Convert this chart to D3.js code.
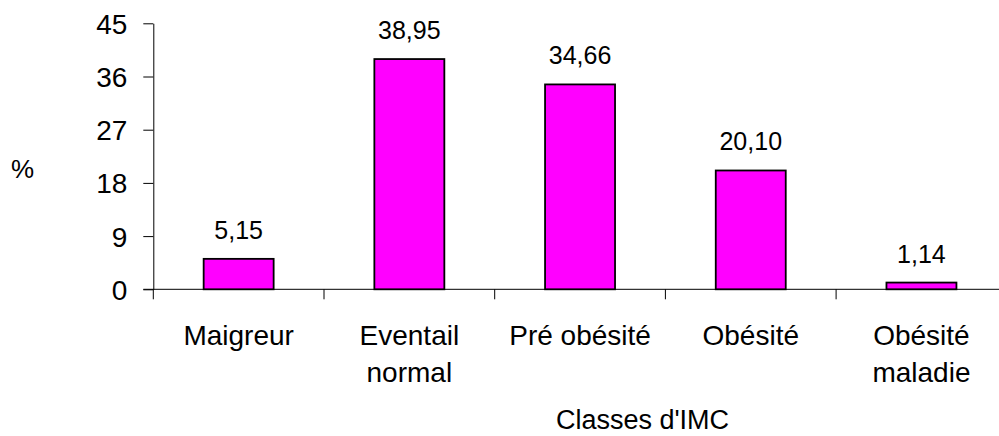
<!DOCTYPE html>
<html>
<head>
<meta charset="utf-8">
<script src="https://cdn.jsdelivr.net/npm/d3@7"></script>
<style>
  html, body { margin: 0; padding: 0; background: #fff; }
  svg { display: block; }
  text { font-family: "Liberation Sans", Arial, sans-serif; fill: #000; }
</style>
</head>
<body>
<svg id="chart" width="999" height="436"></svg>
<script>
// Répartition des classes d'IMC (%)
const categories = [
  ["Maigreur"],
  ["Eventail", "normal"],
  ["Pré obésité"],
  ["Obésité"],
  ["Obésité", "maladie"]
];
const values = [5.15, 38.95, 34.66, 20.10, 1.14];
const yTicks = [0, 9, 18, 27, 36, 45];
const yLabel = "%";
const xLabel = "Classes d'IMC";

const svg = d3.select("#chart");
const keys = categories.map(c => c.join(" "));

const x = d3.scaleBand().domain(keys).range([153.3, 1006.8]).padding(0);
const y = d3.scaleLinear().domain([0, 45]).range([289.3, 23.3]);
const barW = x.bandwidth() * 0.41;
const fmt = v => d3.format(".2f")(v).replace(".", ",");

// Y axis
const yAxis = svg.append("g")
  .attr("transform", `translate(${x.range()[0]},0)`)
  .call(d3.axisLeft(y).tickValues(yTicks).tickSize(10).tickSizeOuter(0).tickPadding(16));
yAxis.select(".domain").attr("stroke", "#000").attr("stroke-width", 1);
yAxis.selectAll(".tick line").attr("stroke", "#000");
yAxis.selectAll(".tick text")
  .style("font-size", "28px")
  .attr("font-family", null)
  .attr("dy", "0.36em");

// X axis: baseline and ticks between categories
const xg = svg.append("g");
xg.append("line")
  .attr("x1", x.range()[0] - 10).attr("x2", 999)
  .attr("y1", y(0)).attr("y2", y(0))
  .attr("stroke", "#000").attr("stroke-width", 1);
const bounds = keys.map(k => x(k)).concat([x(keys[keys.length - 1]) + x.bandwidth()]);
xg.selectAll("line.sep")
  .data(bounds.filter(b => b < 999))
  .join("line")
  .attr("class", "sep")
  .attr("x1", d => d).attr("x2", d => d)
  .attr("y1", y(0)).attr("y2", y(0) + 10)
  .attr("stroke", "#000").attr("stroke-width", 1);

// Category labels
const cat = svg.append("g").selectAll("text")
  .data(categories)
  .join("text")
  .attr("text-anchor", "middle")
  .style("font-size", "28px")
  .attr("x", (d, i) => x(keys[i]) + x.bandwidth() / 2)
  .attr("y", 345);
cat.selectAll("tspan")
  .data(d => d)
  .join("tspan")
  .attr("x", function () { return this.parentNode.getAttribute("x"); })
  .attr("dy", (d, i) => i === 0 ? 0 : 36.7)
  .text(d => d);

// Bars
svg.append("g").selectAll("rect")
  .data(values)
  .join("rect")
  .attr("x", (d, i) => x(keys[i]) + (x.bandwidth() - barW) / 2)
  .attr("y", d => y(d))
  .attr("width", barW)
  .attr("height", d => y(0) - y(d))
  .attr("fill", "#ff00ff")
  .attr("stroke", "#000")
  .attr("stroke-width", 1.8);

// Value labels
svg.append("g").selectAll("text")
  .data(values)
  .join("text")
  .attr("text-anchor", "middle")
  .style("font-size", "25px")
  .attr("x", (d, i) => x(keys[i]) + x.bandwidth() / 2)
  .attr("y", d => y(d) - 20)
  .text(fmt);

// Axis titles
svg.append("text")
  .attr("x", 22.5).attr("y", 178)
  .attr("text-anchor", "middle")
  .style("font-size", "26px")
  .text(yLabel);
svg.append("text")
  .attr("x", 642.5).attr("y", 429)
  .attr("text-anchor", "middle")
  .style("font-size", "27px")
  .text(xLabel);
</script>
</body>
</html>
